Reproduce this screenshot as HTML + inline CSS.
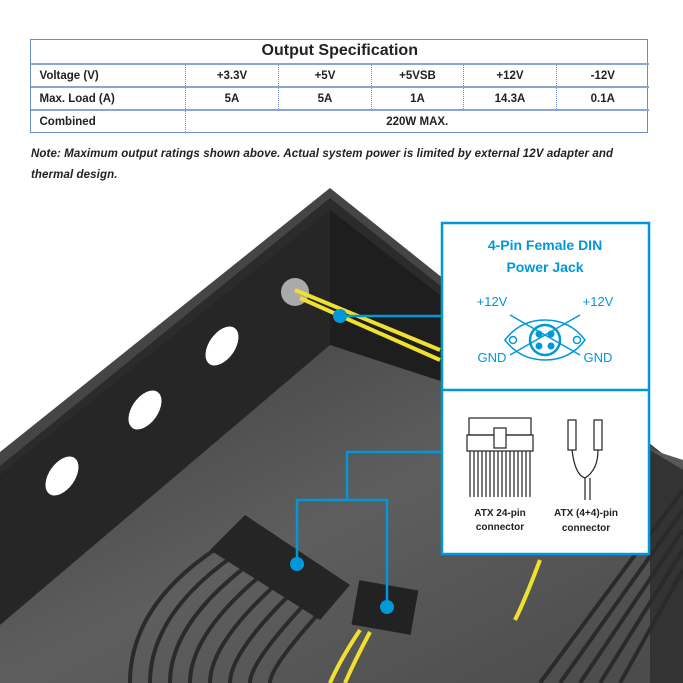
<!DOCTYPE html>
<html><head><meta charset="utf-8"><style>
body{margin:0;width:683px;height:683px;background:#fff;overflow:hidden;font-family:"Liberation Sans",sans-serif;position:relative}
table{position:absolute;left:30px;top:39px;width:618px;border-collapse:collapse;table-layout:fixed;font-size:11.5px;font-weight:bold;color:#222}
td{border-top:2px solid #8aa6d0;border-left:1px dotted #6a8cc8;height:21px;padding:0;text-align:center}
td.f{text-align:left;padding-left:9px;border-left:none}
.t{position:absolute;left:30px;top:39px;width:616px;height:92px;border:1px solid #6a8cc8}
.note{position:absolute;left:31px;top:144px;width:598px;font-size:11.5px;font-style:italic;font-weight:bold;line-height:21px;color:#222;letter-spacing:0.1px}
</style></head><body>
<div class="t"></div>
<table>
<colgroup><col style="width:155px"><col style="width:93px"><col style="width:93px"><col style="width:92px"><col style="width:93px"><col style="width:92px"></colgroup>
<tr><td colspan="6" style="border-top:none;text-align:center;font-size:16px;height:24px;padding:0">Output Specification</td></tr>
<tr><td class="f">Voltage (V)</td><td>+3.3V</td><td>+5V</td><td>+5VSB</td><td>+12V</td><td>-12V</td></tr>
<tr><td class="f">Max. Load (A)</td><td>5A</td><td>5A</td><td>1A</td><td>14.3A</td><td>0.1A</td></tr>
<tr><td class="f">Combined</td><td colspan="5">220W MAX.</td></tr>
</table>
<div class="note">Note: Maximum output ratings shown above. Actual system power is limited by external 12V adapter and thermal design.</div>
<svg style="position:absolute;left:0;top:0" width="683" height="683">
<defs><linearGradient id="fl" x1="0" y1="0" x2="1" y2="1"><stop offset="0" stop-color="#3e3e3e"/><stop offset="0.5" stop-color="#5e5e5e"/><stop offset="1" stop-color="#4a4a4a"/></linearGradient></defs>
<polygon points="330,188 683,470 683,683 0,683 0,452" fill="#454545"/>
<polygon points="330,198 672,470 683,683 0,683 0,466" fill="#2b2b2b"/>
<polygon points="330,210 330,345 0,625 0,475" fill="#262626"/>
<polygon points="330,210 440,295 440,400 330,345" fill="#1e1e1e"/>
<polygon points="330,345 683,460 683,683 0,683 0,625" fill="url(#fl)"/>
<polygon points="650,450 683,470 683,683 650,683" fill="#333"/>
<ellipse cx="222" cy="346" rx="13" ry="22" fill="#fff" transform="rotate(35 222 346)"/>
<ellipse cx="145" cy="410" rx="13" ry="22" fill="#fff" transform="rotate(35 145 410)"/>
<ellipse cx="62" cy="476" rx="13" ry="22" fill="#fff" transform="rotate(35 62 476)"/>
<circle cx="295" cy="292" r="14" fill="#aaa"/>
<path d="M295,290 L440,350 M300,298 L440,360" stroke="#f0e030" stroke-width="4"/>
<g stroke="#2a2a2a" stroke-width="4" fill="none">
<path d="M230,540 Q130,600 130,683 M245,548 Q150,610 150,683 M260,556 Q170,620 170,683 M275,564 Q190,630 190,683 M290,572 Q210,640 210,683 M305,580 Q230,650 230,683 M320,588 Q250,660 250,683 M335,596 Q270,665 270,683"/>
<path d="M683,510 L560,683 M683,530 L580,683 M683,550 L600,683 M683,490 L540,683 M683,570 L620,683"/>
</g>
<polygon points="245,515 350,585 320,620 210,550" fill="#252525"/>
<rect x="355" y="585" width="60" height="45" fill="#222" transform="rotate(10 385 607)"/>
<path d="M360,630 Q340,660 330,683 M370,632 Q355,660 345,683" stroke="#f0e030" stroke-width="4" fill="none"/>
<path d="M540,560 Q525,600 515,620" stroke="#f0e030" stroke-width="4" fill="none"/>
<g stroke="#0098d8" stroke-width="2.5" fill="none">
<path d="M340,316 H441 M441,452 H347 V500 M297,564 V500 H387 V607"/>
</g>
<g fill="#0098d8"><circle cx="340" cy="316" r="7"/><circle cx="297" cy="564" r="7"/><circle cx="387" cy="607" r="7"/></g>
<rect x="442" y="223" width="207" height="331" fill="#fff" stroke="#0098d8" stroke-width="2.5"/>
<line x1="442" y1="390" x2="649" y2="390" stroke="#0098d8" stroke-width="2.5"/>
<g fill="#0098d8" font-weight="bold" text-anchor="middle" font-size="14"><text x="545" y="250">4-Pin Female DIN</text><text x="545" y="272">Power Jack</text></g>
<g fill="#0098d8" font-size="13" text-anchor="middle"><text x="492" y="306">+12V</text><text x="598" y="306">+12V</text><text x="492" y="362">GND</text><text x="598" y="362">GND</text></g>
<g stroke="#0098d8" stroke-width="1.5" fill="none">
<path d="M505,340 Q520,320 545,320 Q570,320 585,340 Q570,360 545,360 Q520,360 505,340Z"/>
<circle cx="545" cy="340" r="15" stroke-width="2.5"/><circle cx="513" cy="340" r="3.5"/><circle cx="577" cy="340" r="3.5"/>
<path d="M510,315 L580,355 M580,315 L510,355"/></g>
<g fill="#0098d8"><circle cx="539" cy="334" r="3.5"/><circle cx="551" cy="334" r="3.5"/><circle cx="539" cy="346" r="3.5"/><circle cx="551" cy="346" r="3.5"/></g>
<g stroke="#222" stroke-width="1.2" fill="none">
<rect x="467" y="435" width="66" height="16"/><rect x="469" y="418" width="62" height="17"/>
<rect x="494" y="428" width="12" height="20" fill="#fff"/>
<path d="M470,451 V497 M474,451 V497 M478,451 V497 M482,451 V497 M486,451 V497 M490,451 V497 M494,451 V497 M498,451 V497 M502,451 V497 M506,451 V497 M510,451 V497 M514,451 V497 M518,451 V497 M522,451 V497 M526,451 V497 M530,451 V497"/>
<rect x="568" y="420" width="8" height="30"/><rect x="594" y="420" width="8" height="30"/>
<path d="M572,450 Q575,475 585,478 Q598,470 598,450 M585,478 V500 M590,478 V500"/></g>
<g fill="#222" font-size="10" font-weight="bold" text-anchor="middle"><text x="500" y="516">ATX 24-pin</text><text x="500" y="530">connector</text><text x="586" y="516">ATX (4+4)-pin</text><text x="586" y="531">connector</text></g>
</svg>
</body></html>
